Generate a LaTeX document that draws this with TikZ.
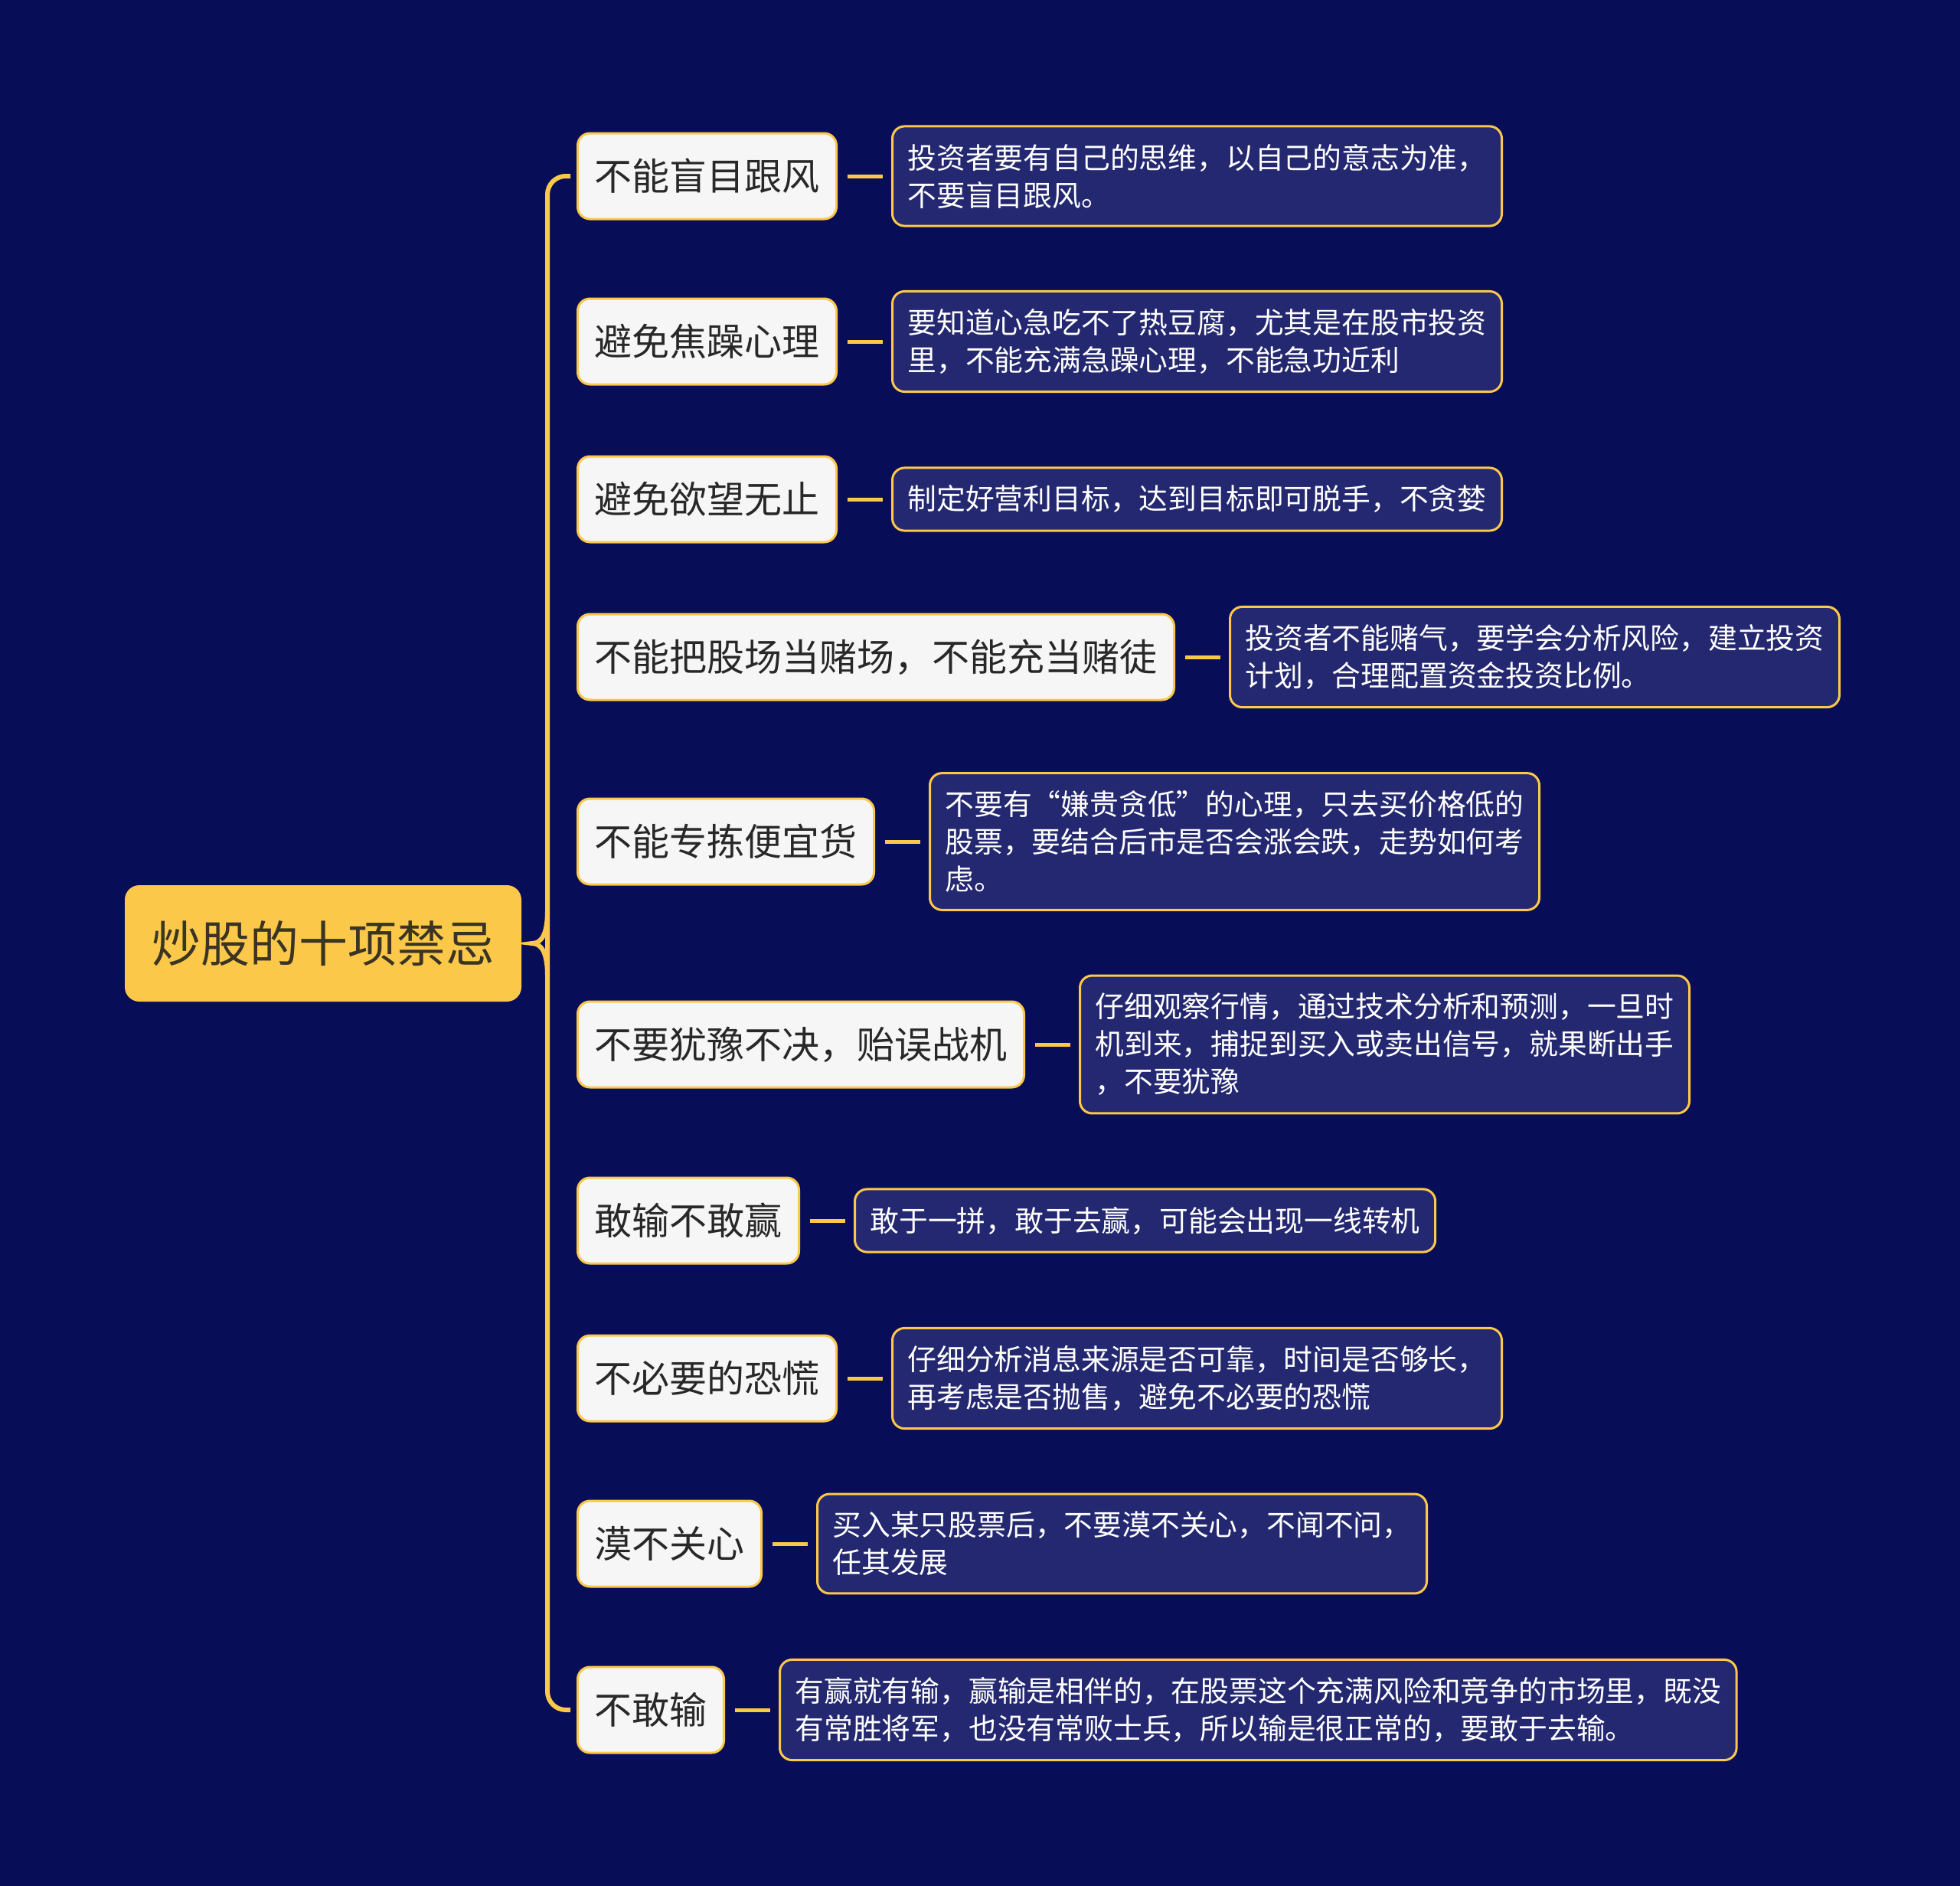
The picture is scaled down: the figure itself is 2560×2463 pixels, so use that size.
\documentclass[tikz,border=0pt]{standalone}
\usepackage{fontspec}
\setmainfont{Noto Sans CJK SC}
\usetikzlibrary{calc}
\definecolor{bg}{RGB}{8,13,88}
\definecolor{yel}{RGB}{252,200,74}
\definecolor{dfill}{RGB}{36,40,112}
\definecolor{brfill}{RGB}{246,246,246}
\definecolor{brtext}{RGB}{40,40,40}
\definecolor{roottext}{RGB}{58,52,36}
\begin{document}
\begin{tikzpicture}[x=1pt,y=-1pt,
  rootbox/.style={draw=yel, fill=yel, line width=2pt, rounded corners=18pt,
    font=\fontsize{64}{76}\selectfont, text=roottext, inner xsep=34pt, minimum height=150pt},
  branchbox/.style={draw=yel, fill=brfill, line width=3pt, rounded corners=16pt,
    font=\fontsize{49}{58}\selectfont, text=brtext, inner xsep=22pt, minimum height=112pt, anchor=west},
  detailbox/.style={draw=yel, fill=dfill, line width=3pt, rounded corners=16pt,
    font=\fontsize{37.8}{49}\selectfont, text=white, inner xsep=20pt, inner ysep=23pt,
    align=left, anchor=west},
  link/.style={draw=yel, line width=5pt},
  bracelink/.style={draw=yel, line width=6pt}]
\useasboundingbox[fill=bg] (0,0) rectangle (2560,2463);

\node[rootbox] (root) at (422,1232) {炒股的十项禁忌};

\node[branchbox] (b1) at (753,230) {不能盲目跟风};
\node[branchbox] (b2) at (753,446) {避免焦躁心理};
\node[branchbox] (b3) at (753,652) {避免欲望无止};
\node[branchbox] (b4) at (753,858) {不能把股场当赌场，不能充当赌徒};
\node[branchbox] (b5) at (753,1099) {不能专拣便宜货};
\node[branchbox] (b6) at (753,1364) {不要犹豫不决，贻误战机};
\node[branchbox] (b7) at (753,1594) {敢输不敢赢};
\node[branchbox] (b8) at (753,1800) {不必要的恐慌};
\node[branchbox] (b9) at (753,2016) {漠不关心};
\node[branchbox] (b10) at (753,2233) {不敢输};

\node[detailbox] (d1) at ([xshift=70pt]b1.east) {投资者要有自己的思维，以自己的意志为准，\\不要盲目跟风。};
\node[detailbox] (d2) at ([xshift=70pt]b2.east) {要知道心急吃不了热豆腐，尤其是在股市投资\\里，不能充满急躁心理，不能急功近利};
\node[detailbox] (d3) at ([xshift=70pt]b3.east) {制定好营利目标，达到目标即可脱手，不贪婪};
\node[detailbox] (d4) at ([xshift=70pt]b4.east) {投资者不能赌气，要学会分析风险，建立投资\\计划，合理配置资金投资比例。};
\node[detailbox] (d5) at ([xshift=70pt]b5.east) {不要有“嫌贵贪低”的心理，只去买价格低的\\股票，要结合后市是否会涨会跌，走势如何考\\虑。};
\node[detailbox] (d6) at ([xshift=70pt]b6.east) {仔细观察行情，通过技术分析和预测，一旦时\\机到来，捕捉到买入或卖出信号，就果断出手\\，不要犹豫};
\node[detailbox] (d7) at ([xshift=70pt]b7.east) {敢于一拼，敢于去赢，可能会出现一线转机};
\node[detailbox] (d8) at ([xshift=70pt]b8.east) {仔细分析消息来源是否可靠，时间是否够长，\\再考虑是否抛售，避免不必要的恐慌};
\node[detailbox] (d9) at ([xshift=70pt]b9.east) {买入某只股票后，不要漠不关心，不闻不问，\\任其发展};
\node[detailbox] (d10) at ([xshift=70pt]b10.east) {有赢就有输，赢输是相伴的，在股票这个充满风险和竞争的市场里，既没\\有常胜将军，也没有常败士兵，所以输是很正常的，要敢于去输。};

\foreach \i in {1,...,10}{
  \draw[link] ([xshift=13pt]b\i.east) -- ([xshift=-11pt]d\i.west);
}

% brace
\coordinate (bt) at ([xshift=-8pt]b1.west);
\coordinate (bb) at ([xshift=-8pt]b10.west);
\coordinate (cusp) at ([xshift=14pt]root.east);
\draw[bracelink, rounded corners=24pt] (bt) -- (715,230) -- (715,2233) -- (bb);
\draw[bracelink] (715,1190) .. controls (715,1222) and (706,1232) .. (cusp)
  .. controls (706,1232) and (715,1242) .. (715,1274);
\end{tikzpicture}
\end{document}
